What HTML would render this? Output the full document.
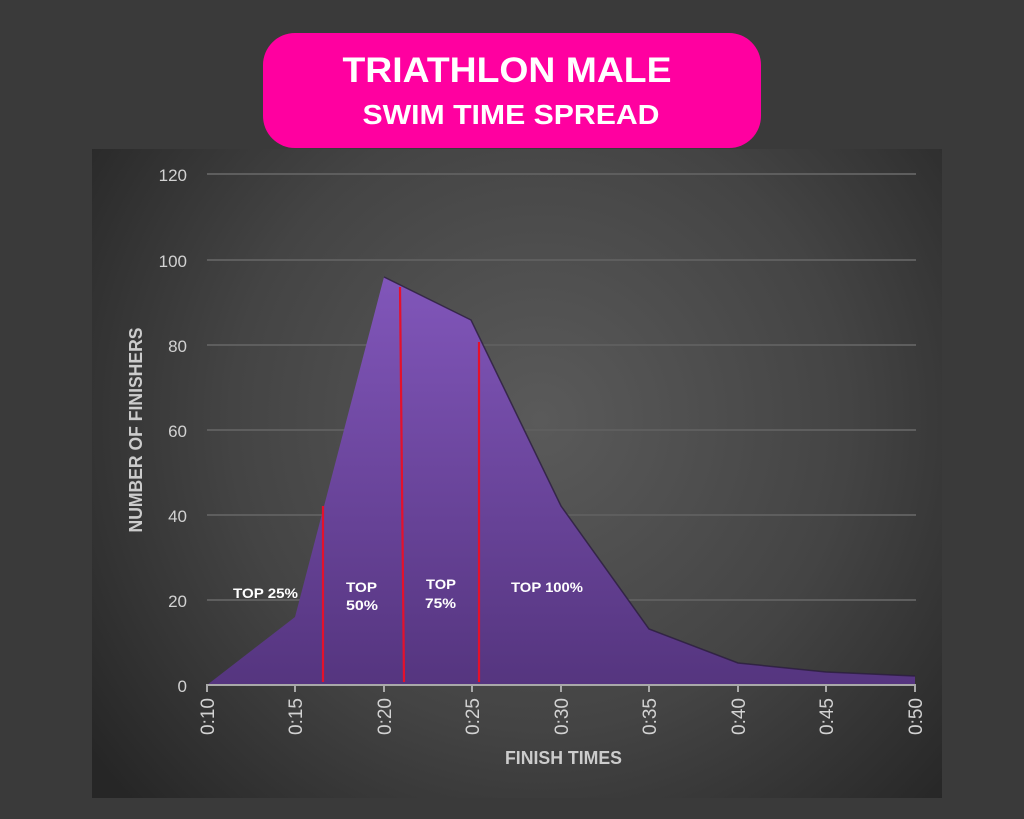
<!DOCTYPE html>
<html>
<head>
<meta charset="utf-8">
<style>
html,body{margin:0;padding:0;background:#3a3a3a;}
svg{display:block;}
</style>
</head>
<body>
<svg width="1024" height="819" viewBox="0 0 1024 819" xmlns="http://www.w3.org/2000/svg">
<defs>
<radialGradient id="pg" cx="540" cy="420" r="560" gradientUnits="userSpaceOnUse">
<stop offset="0" stop-color="#5a5a5a"/>
<stop offset="0.55" stop-color="#444444"/>
<stop offset="1" stop-color="#262626"/>
</radialGradient>
<linearGradient id="ag" x1="0" y1="277" x2="0" y2="685" gradientUnits="userSpaceOnUse">
<stop offset="0" stop-color="#8156ba"/>
<stop offset="1" stop-color="#55357f"/>
</linearGradient>
</defs>
<rect x="0" y="0" width="1024" height="819" fill="#3a3a3a"/>
<rect x="92" y="149" width="850" height="649" fill="url(#pg)"/>

<!-- title -->
<rect x="263" y="33" width="498" height="115" rx="32" ry="32" fill="#ff00a0"/>
<text x="507" y="82" text-anchor="middle" font-family="Liberation Sans, sans-serif" font-weight="bold" font-size="35" fill="#ffffff" textLength="329" lengthAdjust="spacingAndGlyphs">TRIATHLON MALE</text>
<text x="511" y="124" text-anchor="middle" font-family="Liberation Sans, sans-serif" font-weight="bold" font-size="28" fill="#ffffff" textLength="297" lengthAdjust="spacingAndGlyphs">SWIM TIME SPREAD</text>

<!-- gridlines -->
<g stroke="#5e5e5e" stroke-width="2">
<line x1="207" y1="174" x2="916" y2="174"/>
<line x1="207" y1="260" x2="916" y2="260"/>
<line x1="207" y1="345" x2="916" y2="345"/>
<line x1="207" y1="430" x2="916" y2="430"/>
<line x1="207" y1="515" x2="916" y2="515"/>
<line x1="207" y1="600" x2="916" y2="600"/>
</g>

<!-- y tick labels -->
<g font-family="Liberation Sans, sans-serif" font-size="17" fill="#d2d2d2" text-anchor="end">
<text x="187" y="181">120</text>
<text x="187" y="267">100</text>
<text x="187" y="352">80</text>
<text x="187" y="437">60</text>
<text x="187" y="522">40</text>
<text x="187" y="607">20</text>
<text x="187" y="692">0</text>
</g>

<!-- y axis title -->
<text transform="translate(142,430) rotate(-90)" text-anchor="middle" font-family="Liberation Sans, sans-serif" font-weight="bold" font-size="18" fill="#cccccc" textLength="205" lengthAdjust="spacingAndGlyphs">NUMBER OF FINISHERS</text>

<!-- area -->
<path d="M207,685 L295,617 L384,277 L471,320 L561,506 L649,629 L738,663 L826,672 L915,676 L915,685 Z" fill="url(#ag)"/>
<path d="M384,277 L471,320 L561,506 L649,629 L738,663 L826,672 L915,676" fill="none" stroke="#2a1d3d" stroke-width="1.5" stroke-opacity="0.8"/>

<!-- red lines -->
<g stroke="#e4112c" stroke-width="2.2">
<line x1="323" y1="506" x2="323" y2="682"/>
<line x1="400" y1="287" x2="404" y2="682"/>
<line x1="479" y1="342" x2="479" y2="682"/>
</g>

<!-- labels -->
<g font-family="Liberation Sans, sans-serif" font-weight="bold" font-size="14" fill="#ffffff">
<text x="233" y="598" textLength="65" lengthAdjust="spacingAndGlyphs">TOP 25%</text>
<text x="346" y="592" textLength="31" lengthAdjust="spacingAndGlyphs">TOP</text>
<text x="346" y="610" textLength="32" lengthAdjust="spacingAndGlyphs">50%</text>
<text x="426" y="589" textLength="30" lengthAdjust="spacingAndGlyphs">TOP</text>
<text x="425" y="608" textLength="31" lengthAdjust="spacingAndGlyphs">75%</text>
<text x="511" y="592" textLength="72" lengthAdjust="spacingAndGlyphs">TOP 100%</text>
</g>

<!-- x axis -->
<line x1="206" y1="685" x2="916" y2="685" stroke="#a9a9a9" stroke-width="2"/>
<g stroke="#a9a9a9" stroke-width="2">
<line x1="207" y1="685" x2="207" y2="692"/>
<line x1="295" y1="685" x2="295" y2="692"/>
<line x1="384" y1="685" x2="384" y2="692"/>
<line x1="472" y1="685" x2="472" y2="692"/>
<line x1="561" y1="685" x2="561" y2="692"/>
<line x1="649" y1="685" x2="649" y2="692"/>
<line x1="738" y1="685" x2="738" y2="692"/>
<line x1="826" y1="685" x2="826" y2="692"/>
<line x1="915" y1="685" x2="915" y2="692"/>
</g>
<g font-family="Liberation Sans, sans-serif" font-size="19" fill="#d2d2d2">
<text transform="translate(214,735) rotate(-90)" textLength="37" lengthAdjust="spacingAndGlyphs">0:10</text>
<text transform="translate(302,735) rotate(-90)" textLength="37" lengthAdjust="spacingAndGlyphs">0:15</text>
<text transform="translate(391,735) rotate(-90)" textLength="37" lengthAdjust="spacingAndGlyphs">0:20</text>
<text transform="translate(479,735) rotate(-90)" textLength="37" lengthAdjust="spacingAndGlyphs">0:25</text>
<text transform="translate(568,735) rotate(-90)" textLength="37" lengthAdjust="spacingAndGlyphs">0:30</text>
<text transform="translate(656,735) rotate(-90)" textLength="37" lengthAdjust="spacingAndGlyphs">0:35</text>
<text transform="translate(745,735) rotate(-90)" textLength="37" lengthAdjust="spacingAndGlyphs">0:40</text>
<text transform="translate(833,735) rotate(-90)" textLength="37" lengthAdjust="spacingAndGlyphs">0:45</text>
<text transform="translate(922,735) rotate(-90)" textLength="37" lengthAdjust="spacingAndGlyphs">0:50</text>
</g>

<text x="505" y="764" font-family="Liberation Sans, sans-serif" font-weight="bold" font-size="18" fill="#cccccc" textLength="117" lengthAdjust="spacingAndGlyphs">FINISH TIMES</text>
</svg>
</body>
</html>
